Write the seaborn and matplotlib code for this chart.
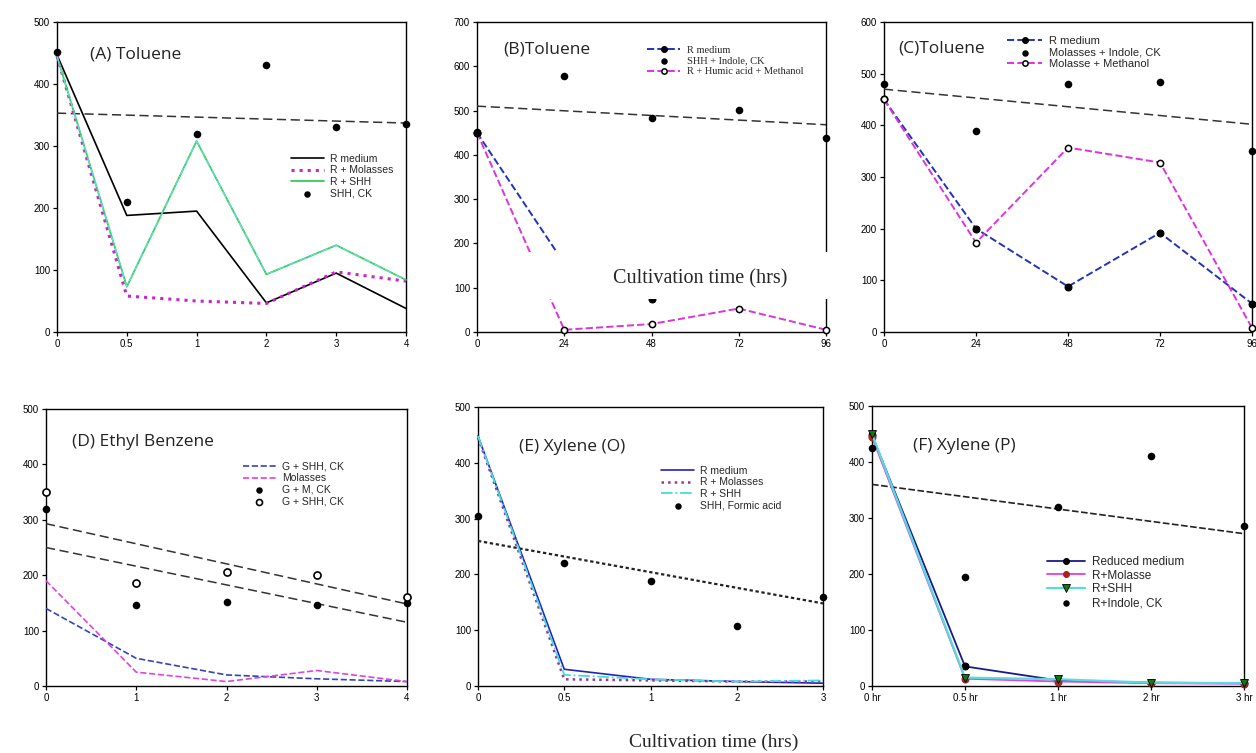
import numpy as np
import pandas as pd
import matplotlib
matplotlib.use('Agg')
import matplotlib.pyplot as plt
import seaborn as sns
from matplotlib.patches import Rectangle

sns.set_style('white')
plt.rcParams['font.family'] = ['Liberation Sans', 'DejaVu Sans']

# ---------------- data ----------------
# (A) Toluene
a_labels = ['0', '0.5', '1', '2', '3', '4']
a_r_medium = [447, 188, 195, 47, 95, 38]
a_r_molasses = [445, 58, 50, 46, 97, 82]
a_r_shh = [445, 73, 308, 93, 140, 84]
a_shh_ck = [451, 210, 320, 431, 330, 335]
a_trend = [353, 337]

# (B) Toluene
b_hours = [0, 24, 48, 72, 96]
b_r_medium = [450, 155, 75, 110, 90]
b_shh_indole = [452, 577, 483, 502, 437]
b_humic_meth = [450, 5, 18, 53, 5]
b_trend = [510, 468]

# (C) Toluene
c_hours = [0, 24, 48, 72, 96]
c_r_medium = [450, 200, 88, 192, 55]
c_mol_indole = [480, 390, 480, 483, 350]
c_mol_meth = [450, 173, 357, 328, 8]
c_trend = [470, 402]

# (D) Ethyl Benzene
d_labels = ['0', '1', '2', '3', '4']
d_g_shh = [140, 50, 20, 13, 8]
d_molasses = [190, 25, 8, 28, 8]
d_g_m_ck = [320, 146, 151, 146, 150]
d_g_shh_ck = [350, 186, 206, 201, 160]
d_trend_upper = [293, 148]
d_trend_lower = [250, 115]

# (E) Xylene (O)
e_labels = ['0', '0.5', '1', '2', '3']
e_r_medium = [448, 30, 12, 8, 5]
e_r_molasses = [445, 12, 10, 8, 8]
e_r_shh = [448, 20, 12, 8, 10]
e_shh_formic = [305, 220, 188, 107, 160]
e_trend = [260, 148]

# (F) Xylene (P)
f_labels = ['0 hr', '0.5 hr', '1 hr', '2 hr', '3 hr']
f_reduced = [448, 35, 10, 6, 5]
f_r_molasse = [445, 13, 8, 5, 4]
f_r_shh = [450, 15, 12, 6, 5]
f_indole_ck = [425, 195, 320, 410, 285]
f_trend = [360, 272]

# ---------------- helpers ----------------
W, H = 1256, 753
fig = plt.figure(figsize=(W / 100, H / 100), dpi=100)


def make_ax(x0, y0, x1, y1):
    return fig.add_axes([x0 / W, 1 - y1 / H, (x1 - x0) / W, (y1 - y0) / H])


def style_ax(ax, xticks, xlabels, ymax, ystep=100):
    ax.set_xlim(xticks[0], xticks[-1])
    ax.set_ylim(0, ymax)
    ax.set_xticks(xticks)
    ax.set_xticklabels(xlabels)
    ax.set_yticks(np.arange(0, ymax + 1, ystep))
    ax.tick_params(axis='both', direction='out', length=3, width=0.9,
                   labelsize=7, colors='black', pad=2)
    ax.tick_params(bottom=True, left=True)
    for s in ax.spines.values():
        s.set_visible(True)
        s.set_color('black')
        s.set_linewidth(1.0)
    ax.set_xlabel('')
    ax.set_ylabel('')


def dots(ax, x, y, label, filled=True, size=30):
    df = pd.DataFrame({'x': x, 'y': y})
    sns.scatterplot(data=df, x='x', y='y', ax=ax, s=size,
                    color='black' if filled else 'white',
                    edgecolor='black', linewidth=1.2 if not filled else 0,
                    label=label, zorder=6, clip_on=False)


def line(ax, x, y, label, color, ls='-', lw=1.2, marker=None, **kw):
    df = pd.DataFrame({'x': x, 'y': y})
    sns.lineplot(data=df, x='x', y='y', ax=ax, color=color, linestyle=ls,
                 linewidth=lw, marker=marker, label=label, zorder=4,
                 clip_on=False, **kw)


def trend(ax, x, y, color='#333333', dashes=(6, 3), lw=1.1):
    df = pd.DataFrame({'x': x, 'y': y})
    sns.lineplot(data=df, x='x', y='y', ax=ax, color=color, linewidth=lw,
                 dashes=False, legend=False, zorder=3)
    ax.lines[-1].set_dashes(dashes)


def title(ax, fx, fy, text, size=12.5):
    ax.text(fx, fy, text, transform=ax.transAxes, fontsize=size,
            family=['Open Sans', 'DejaVu Sans'], color='#222222',
            va='center', ha='left')


def legend(ax, fx, fy, size=7.5, family='Liberation Sans'):
    h, l = ax.get_legend_handles_labels()
    ax.legend(h, l, loc='upper left', bbox_to_anchor=(fx, fy), frameon=False,
              prop={'family': family, 'size': size}, markerscale=0.85,
              handlelength=3.2, handletextpad=0.6, labelspacing=0.15,
              borderpad=0, borderaxespad=0)


# ---------------- (A) ----------------
ax = make_ax(57, 22, 406, 332)
xa = np.arange(len(a_labels))
line(ax, xa, a_r_medium, 'R medium', 'black', lw=1.2)
line(ax, xa, a_r_molasses, 'R + Molasses', '#cc22cc', ls=':', lw=2.2)
line(ax, xa, a_r_shh, 'R + SHH', '#33cc55', lw=1.3)
ax.plot(xa, a_r_shh, color='#66e0e0', ls='-.', lw=0.8, zorder=5, label='_nolegend_')
dots(ax, xa, a_shh_ck, 'SHH, CK')
trend(ax, [xa[0], xa[-1]], a_trend)
style_ax(ax, xa, a_labels, 500)
title(ax, 0.095, 0.894, '(A) Toluene')
legend(ax, 0.67, 0.575)

# ---------------- (B) ----------------
ax = make_ax(477, 22, 826, 332)
line(ax, b_hours, b_r_medium, 'R medium', '#2233bb', ls='--', lw=1.4,
     marker='o', markersize=5, markerfacecolor='black', markeredgecolor='black')
dots(ax, b_hours, b_shh_indole, 'SHH + Indole, CK')
line(ax, b_hours, b_humic_meth, 'R + Humic acid + Methanol', '#dd33dd', ls='--',
     lw=1.4, marker='o', markersize=4.5, markerfacecolor='white',
     markeredgecolor='black', markeredgewidth=1.1)
trend(ax, [b_hours[0], b_hours[-1]], b_trend)
style_ax(ax, b_hours, [str(h) for h in b_hours], 700)
title(ax, 0.075, 0.91, '(B)Toluene')
legend(ax, 0.487, 0.925, size=7.5, family='Liberation Serif')

# ---------------- (C) ----------------
ax = make_ax(884, 22, 1252, 332)
line(ax, c_hours, c_r_medium, 'R medium', '#2233bb', ls='--', lw=1.4,
     marker='o', markersize=5, markerfacecolor='black', markeredgecolor='black')
dots(ax, c_hours, c_mol_indole, 'Molasses + Indole, CK')
line(ax, c_hours, c_mol_meth, 'Molasse + Methanol', '#dd33dd', ls='--',
     lw=1.4, marker='o', markersize=4.5, markerfacecolor='white',
     markeredgecolor='black', markeredgewidth=1.1)
trend(ax, [c_hours[0], c_hours[-1]], c_trend)
style_ax(ax, c_hours, [str(h) for h in c_hours], 600)
title(ax, 0.04, 0.915, '(C)Toluene')
legend(ax, 0.334, 0.955, size=8)

# ---------------- (D) ----------------
ax = make_ax(46, 409, 407, 686)
xd = np.arange(len(d_labels))
line(ax, xd, d_g_shh, 'G + SHH, CK', '#3344bb', ls='--', lw=1.2)
line(ax, xd, d_molasses, 'Molasses', '#dd44dd', ls='--', lw=1.2)
dots(ax, xd, d_g_m_ck, 'G + M, CK')
dots(ax, xd, d_g_shh_ck, 'G + SHH, CK', filled=False, size=26)
trend(ax, [xd[0], xd[-1]], d_trend_upper)
trend(ax, [xd[0], xd[-1]], d_trend_lower)
style_ax(ax, xd, d_labels, 500)
title(ax, 0.072, 0.88, '(D) Ethyl Benzene')
legend(ax, 0.545, 0.81, size=7.5)

# ---------------- (E) ----------------
ax = make_ax(478, 407, 823, 686)
xe = np.arange(len(e_labels))
line(ax, xe, e_r_medium, 'R medium', '#2222bb', lw=1.2)
line(ax, xe, e_r_molasses, 'R + Molasses', '#993399', ls=':', lw=1.8)
line(ax, xe, e_r_shh, 'R + SHH', '#44dddd', ls='-.', lw=1.3)
dots(ax, xe, e_shh_formic, 'SHH, Formic acid')
trend(ax, [xe[0], xe[-1]], e_trend, color='#222222', dashes=(1.5, 1.2), lw=1.6)
style_ax(ax, xe, e_labels, 500)
title(ax, 0.119, 0.857, '(E) Xylene (O)')
legend(ax, 0.53, 0.79, size=7.5)

# ---------------- (F) ----------------
ax = make_ax(872, 406, 1244, 686)
xf = np.arange(len(f_labels))
line(ax, xf, f_reduced, 'Reduced medium', '#1a1a88', lw=1.3, marker='o',
     markersize=5, markerfacecolor='black', markeredgecolor='black')
line(ax, xf, f_r_molasse, 'R+Molasse', '#dd44dd', lw=1.3, marker='o',
     markersize=5, markerfacecolor='#aa2222', markeredgecolor='#aa2222')
line(ax, xf, f_r_shh, 'R+SHH', '#55dddd', lw=1.6, marker='v',
     markersize=6, markerfacecolor='#117711', markeredgecolor='black',
     markeredgewidth=0.6)
dots(ax, xf, f_indole_ck, 'R+Indole, CK')
trend(ax, [xf[0], xf[-1]], f_trend, color='#222222', dashes=(4, 1.5), lw=1.2)
style_ax(ax, xf, f_labels, 500)
title(ax, 0.11, 0.857, '(F) Xylene (P)')
legend(ax, 0.47, 0.465, size=8.5)

# white label box overlaid on panel B, as in the source figure
fig.add_artist(Rectangle((527 / W, 1 - 299 / H), 308 / W, 47 / H,
                         transform=fig.transFigure, facecolor='white',
                         edgecolor='none', zorder=20))
fig.text(700 / W, 1 - 279 / H, 'Cultivation time (hrs)', ha='center',
         va='center', fontsize=14.5, family='Liberation Serif', zorder=21)

fig.text(714 / W, 1 - 742 / H, 'Cultivation time (hrs)', ha='center',
         va='center', fontsize=14, family='Liberation Serif')

fig.savefig('out.png', dpi=100)
